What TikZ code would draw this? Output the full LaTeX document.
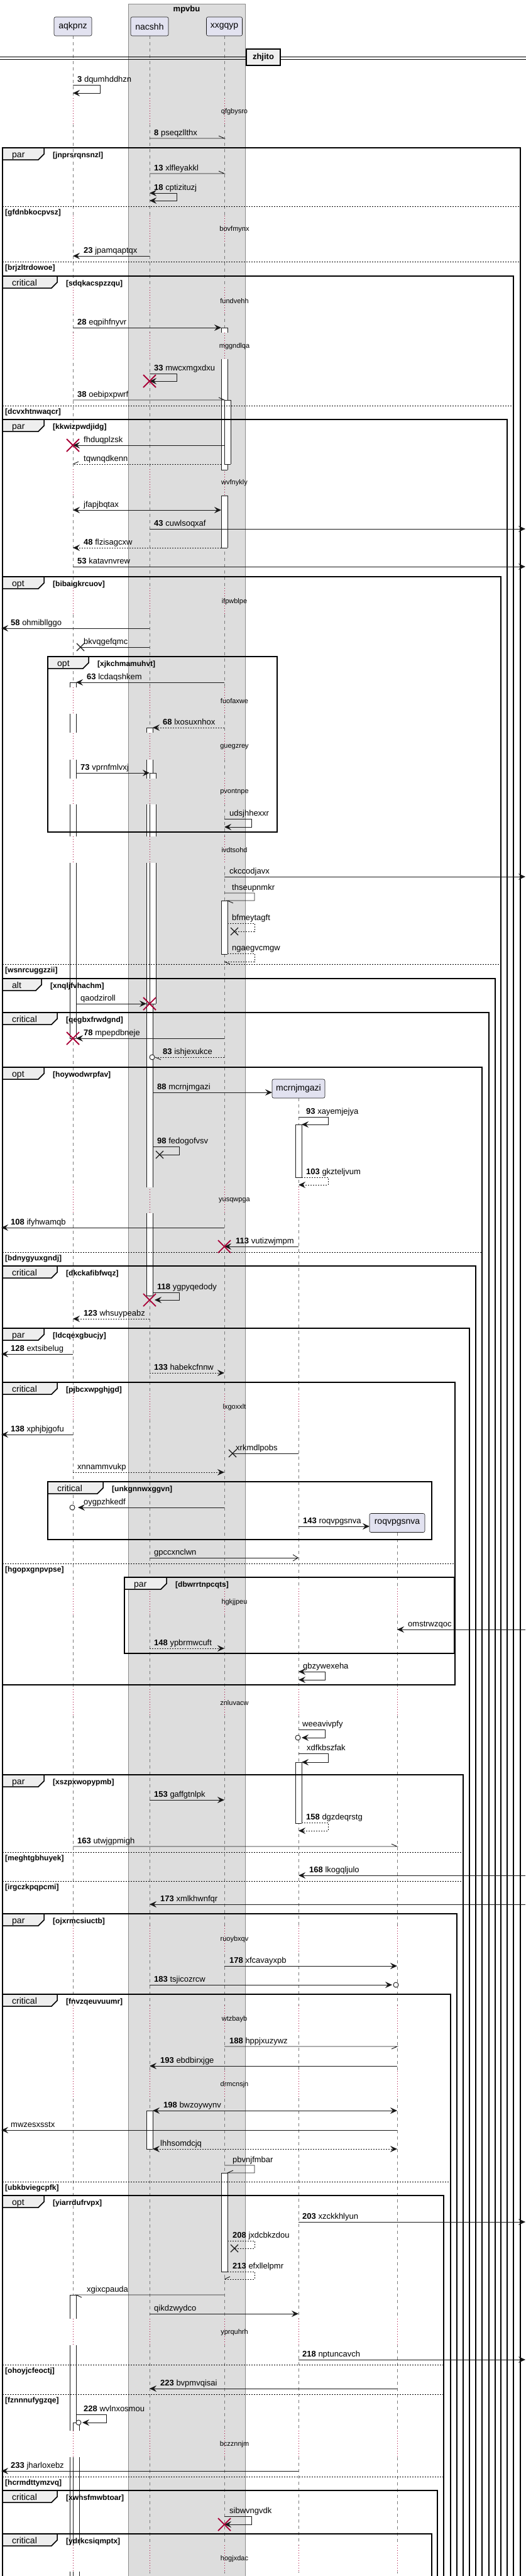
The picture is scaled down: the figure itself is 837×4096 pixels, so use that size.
\documentclass[tikz,border=0pt]{standalone}
\usepackage{fontspec}
\setmainfont{Liberation Sans}
\usetikzlibrary{arrows.meta}
\definecolor{lc}{HTML}{181818}
\definecolor{destroyred}{HTML}{A80036}
\definecolor{headfill}{HTML}{E2E2F0}
\definecolor{boxfill}{HTML}{DDDDDD}
\definecolor{boxline}{HTML}{8A8A8A}
\definecolor{tabfill}{HTML}{EEEEEE}
\definecolor{lifegray}{HTML}{7A7A7A}
\tikzset{%
	headbox/.style  = {draw=lc, fill=headfill, rounded corners=2.5pt, line width=0.6pt, minimum height=30pt, inner sep=0pt, font=\fontsize{14}{16}\selectfont},
	life/.style     = {draw=lifegray, line width=0.6pt, dash pattern=on 5pt off 5pt},
	delayline/.style= {draw=destroyred, line width=0.6pt, dash pattern=on 1pt off 3pt},
	delaytxt/.style = {inner sep=0pt, font=\fontsize{11}{13}\selectfont},
	msg/.style      = {draw=lc, line width=0.9pt},
	arr/.style      = {-{Stealth[length=11pt,width=10pt,inset=4pt]}},
	biarr/.style    = {{Stealth[length=11pt,width=10pt,inset=4pt]}-{Stealth[length=11pt,width=10pt,inset=4pt]}},
	openarr/.style  = {-{Straight Barb[length=8pt,width=10pt]}},
	dotline/.style  = {dash pattern=on 2pt off 2pt},
	lbl/.style      = {anchor=base west, inner sep=0pt, font=\fontsize{13}{15}\selectfont},
	actline/.style  = {draw=lc, line width=0.8pt},
	frm/.style      = {draw=black, line width=1.5pt},
	tabbox/.style   = {draw=black, fill=tabfill, line width=1.5pt},
	tabtxt/.style   = {anchor=base west, inner sep=0pt, font=\fontsize{14}{16}\selectfont},
	cond/.style     = {anchor=base west, inner sep=0pt, font=\bfseries\fontsize{12}{14}\selectfont},
	elseline/.style = {draw=black, line width=0.8pt, dash pattern=on 2pt off 2pt},
	kill/.style     = {draw=destroyred, line width=1.8pt},
	lost/.style     = {draw=lc, line width=1.3pt},
}
% lifeline positions
\def\posA{116}
\def\posN{238}
\def\posX{357}
\def\posM{475}
\def\posR{632}
\def\lifesA{\posA/white,\posN/boxfill,\posX/boxfill}
\def\lifesB{\posA/white,\posN/boxfill,\posX/boxfill,\posM/white}
\def\lifesC{\posA/white,\posN/boxfill,\posX/boxfill,\posM/white,\posR/white}
\newcommand\actseg[3]{\fill[white] (#1,#2) rectangle (#1+10,#3); \draw[actline] (#1,#2) -- (#1,#3) (#1+10,#2) -- (#1+10,#3);}
\newcommand\actcap[2]{\draw[actline] (#1,#2) -- (#1+10,#2);}
\newcommand\killmark[2]{\draw[kill] (#1-10,#2-10) -- (#1+10,#2+10) (#1-10,#2+10) -- (#1+10,#2-10);}
\newcommand\lostmark[2]{\draw[lost] (#1-6,#2-6) -- (#1+6,#2+6) (#1-6,#2+6) -- (#1+6,#2-6);}
\newcommand\msglabel[4]{\node[lbl] (#1) at (#2,#3) {#4};}
\newcommand\delaymark[4]{%
	\foreach \lx/\bg in #4 {\fill[\bg] (\lx-1.2,#2-22) rectangle (\lx+1.2,#2+20);
		\draw[delayline] (\lx,#2-22) -- (\lx,#2+20);}
	\node[delaytxt] (#1) at (373,#2) {#3};}
\newcommand\openframe[6]{%
	\draw[frm] (4,4110) -- (4,#2) -- (#3,#2) -- (#3,4110);
	\filldraw[tabbox] (4,#2) -- (#4,#2) -- (#4,#2+10) -- (#4-9,#2+19) -- (4,#2+19) -- cycle;
	\node[tabtxt] (#1) at (19,#2+15.5) {#5};
	\node[cond] (#1g) at (#4+14,#2+15) {[#6]};}
\newcommand\closedframe[8]{%
	\draw[frm] (#2,#3) rectangle (#4,#5);
	\filldraw[tabbox] (#2,#3) -- (#6,#3) -- (#6,#3+10) -- (#6-9,#3+19) -- (#2,#3+19) -- cycle;
	\node[tabtxt] (#1) at (#2+15,#3+15.5) {#7};
	\node[cond] (#1g) at (#6+14,#3+15) {[#8]};}
\newcommand\elsesep[4]{%
	\draw[elseline] (4,#2) -- (#3,#2);
	\node[cond] (#1) at (8,#2+13) {[#4]};}

\begin{document}
\begin{tikzpicture}[x=1pt,y=-1pt]
	\useasboundingbox (0,0) rectangle (837,4096);
	% box and lifelines
	\filldraw[fill=boxfill, draw=boxline, line width=0.8pt] (204,6) rectangle (390,4110);
	\node[font=\bfseries\fontsize{13}{15}\selectfont] (mpvbu) at (297,15) {mpvbu};
	\draw[life] (\posA,57) -- (\posA,4096);
	\draw[life] (\posN,57) -- (\posN,4096);
	\draw[life] (\posX,57) -- (\posX,4096);
	\draw[life] (\posM,1746) -- (\posM,4096);
	\draw[life] (\posR,2437) -- (\posR,4096);
	
	\delaymark{d1}{178}{qfgbysro}{\lifesA}
	\delaymark{d2}{365}{bovfmynx}{\lifesA}
	\delaymark{d3}{479}{fundvehh}{\lifesA}
	\delaymark{d4}{551}{mggndlqa}{\lifesA}
	\delaymark{d5}{768}{wvfnykly}{\lifesA}
	\delaymark{d6}{957}{ifpwblpe}{\lifesA}
	\delaymark{d7}{1115}{fuofaxwe}{\lifesA}
	\delaymark{d8}{1188}{guegzrey}{\lifesA}
	\delaymark{d9}{1259}{pvontnpe}{\lifesA}
	\delaymark{d10}{1352}{ivdtsohd}{\lifesA}
	\delaymark{d11}{1909}{yusqwpga}{\lifesB}
	\delaymark{d12}{2238}{lxgoxxlt}{\lifesB}
	\delaymark{d13}{2548}{hgkjjpeu}{\lifesC}
	\delaymark{d14}{2708}{znluvacw}{\lifesC}
	\delaymark{d15}{3084}{ruoybxqv}{\lifesC}
	\delaymark{d16}{3211}{wtzbayb}{\lifesC}
	\delaymark{d17}{3315}{drmcnsjn}{\lifesC}
	\delaymark{d18}{3709}{yprquhrh}{\lifesC}
	\delaymark{d19}{3887}{bczznnjm}{\lifesC}
	\delaymark{d20}{4069}{hogjxdac}{\lifesC}
	
	% activations
	\actseg{352}{521}{529}\actcap{352}{521}
	\actseg{352}{571}{747}\actcap{352}{747}
	\actseg{357}{636}{738}\actcap{357}{636}\actcap{357}{738}
	\actseg{352}{788}{871}\actcap{352}{788}\actcap{352}{871}
	\actseg{352}{1432}{1517}\actcap{352}{1432}\actcap{352}{1517}
	\actseg{352}{3455}{3612}\actcap{352}{3455}\actcap{352}{3612}
	\actseg{111}{1085}{1093}\actcap{111}{1085}
	\actseg{111}{1135}{1165}
	\actseg{111}{1208}{1238}
	\actseg{111}{1279}{1330}
	\actseg{111}{1372}{1651}\actcap{111}{1651}
	\actseg{233}{1157}{1165}\actcap{233}{1157}
	\actseg{233}{1208}{1238}
	\actseg{233}{1279}{1330}
	\actseg{233}{1372}{1596}
	\actseg{238}{1229}{1238}\actcap{238}{1229}
	\actseg{238}{1279}{1330}
	\actseg{238}{1372}{1596}\actcap{238}{1596}
	\actseg{233}{1596}{1888}\actcap{233}{1596}
	\actseg{233}{1929}{2060}\actcap{233}{2060}
	\actseg{233}{3356}{3417}\actcap{233}{3356}\actcap{233}{3417}
	\actseg{470}{1788}{1872}\actcap{470}{1788}\actcap{470}{1872}
	\actseg{470}{2802}{2899}\actcap{470}{2802}\actcap{470}{2899}
	\actseg{111}{3649}{3687}\actcap{111}{3649}
	\actseg{111}{3729}{3865}
	\actseg{111}{3907}{4047}
	\actseg{111}{4089}{4110}
	\actseg{116}{3852}{3865}\actcap{116}{3852}
	\actseg{116}{3907}{4047}
	\actseg{116}{4089}{4110}
	
	% divider
	\draw[line width=1pt] (0,90) -- (837,90) (0,94) -- (837,94);
	\node[draw=black, line width=1.5pt, fill=tabfill, font=\bfseries\fontsize{13}{15}\selectfont, minimum width=54pt, minimum height=26pt, inner sep=0pt] (zhjito) at (419,91) {zhjito};
	
	% groups
	\openframe{g1}{235}{828}{70}{par}{jnprsrqnsnzl}
	\elsesep{e1}{328}{828}{gfdnbkocpvsz}
	\elsesep{e2}{416}{828}{brjzltrdowoe}
	\openframe{g2}{439}{817}{91}{critical}{sdqkacspzzqu}
	\elsesep{e3}{645}{817}{dcvxhtnwaqcr}
	\openframe{g3}{667}{807}{70}{par}{kkwizpwdjidg}
	\openframe{g4}{917}{797}{70}{opt}{bibaigkrcuov}
	\closedframe{g4a}{76}{1044}{441}{1323}{141}{opt}{xjkchmamuhvt}
	\elsesep{e4}{1533}{797}{wsnrcuggzzii}
	\openframe{g5}{1556}{788}{66}{alt}{xnqljfvhachm}
	\openframe{g6}{1610}{778}{91}{critical}{qegbxfrwdgnd}
	\openframe{g7}{1697}{767}{70}{opt}{hoywodwrpfav}
	\elsesep{e5}{1991}{767}{bdnygyuxgndj}
	\openframe{g8}{2013}{757}{91}{critical}{dkckafibfwqz}
	\openframe{g9}{2112}{747}{70}{par}{ldcqexgbucjy}
	\closedframe{g10}{4}{2198}{724}{2679}{91}{critical}{pjbcxwpghjgd}
	\closedframe{g10a}{76}{2356}{687}{2448}{164}{critical}{unkgnnwxggvn}
	\elsesep{e6}{2486}{724}{hgopxgnpvpse}
	\closedframe{g10b}{198}{2508}{723}{2629}{265}{par}{dbwrrtnpcqts}
	\openframe{g11}{2822}{737}{70}{par}{xszpxwopypmb}
	\elsesep{e7}{2945}{737}{meghtgbhuyek}
	\elsesep{e8}{2991}{737}{irgczkpqpcmi}
	\openframe{g12}{3043}{727}{70}{par}{ojxrmcsiuctb}
	\openframe{g13}{3171}{717}{91}{critical}{fnvzqeuvuumr}
	\elsesep{e9}{3469}{717}{ubkbviegcpfk}
	\openframe{g14}{3491}{706}{70}{opt}{yiarrdufrvpx}
	\elsesep{e10}{3760}{706}{ohoyjcfeoctj}
	\elsesep{e11}{3807}{706}{fznnnufygzqe}
	\elsesep{e12}{3938}{706}{hcrmdttymzvq}
	\openframe{g15}{3960}{696}{91}{critical}{xwhsfmwbtoar}
	\openframe{g16}{4029}{687}{91}{critical}{ydrkcsiqmptx}
	
	% participants
	\node[headbox, minimum width=60pt] (aqkpnz) at (\posA,42) {aqkpnz};
	\node[headbox, minimum width=60pt] (nacshh) at (\posN,42) {nacshh};
	\node[headbox, minimum width=57pt] (xxgqyp) at (\posX,42) {xxgqyp};
	\node[headbox, minimum width=84pt] (mcrnjmgazi) at (\posM,1731) {mcrnjmgazi};
	\node[headbox, minimum width=88pt] (roqvpgsnva) at (\posR,2421.5) {roqvpgsnva};
	
	% messages
	\draw[msg,arr] (\posA,135) -- (159,135) -- (159,148) -- (\posA,148);
	\msglabel{m3}{123}{130}{\textbf{3} dqumhddhzn}
	\draw[msg] (\posN,220) -- (\posX,220) -- ++(-9,-4);
	\msglabel{m8}{245}{215}{\textbf{8} pseqzllthx}
	\draw[msg] (\posN,276) -- (\posX,276) -- ++(-9,-4);
	\msglabel{m13}{245}{271}{\textbf{13} xlfleyakkl}
	\draw[msg,biarr] (\posN,307) -- (281,307) -- (281,319) -- (\posN,319);
	\msglabel{m18}{245}{302}{\textbf{18} cptizituzj}
	\draw[msg,arr] (\posN,407) -- (\posA,407);
	\msglabel{m23}{133}{402}{\textbf{23} jpamqaptqx}
	\draw[msg,arr] (\posA,521) -- (352,521);
	\msglabel{m28}{123}{516}{\textbf{28} eqpihfnyvr}
	\draw[msg,arr] (\posN,594) -- (281,594) -- (281,606) -- (\posN,606);
	\msglabel{m33}{245}{589}{\textbf{33} mwcxmgxdxu}
	\killmark{\posN}{606}
	\draw[msg] (\posA,636) -- (357,636) -- ++(-9,-4);
	\msglabel{m38}{123}{631}{\textbf{38} oebipxpwrf}
	\draw[msg,arr] (357,708) -- (\posA,708);
	\msglabel{fhduqplzsk}{133}{703}{fhduqplzsk}
	\killmark{\posA}{708}
	\draw[msg,dotline] (352,738) -- (\posA,738);
	\draw[msg] (\posA,738) -- ++(9,-4);
	\msglabel{tqwnqdkenn}{133}{733}{tqwnqdkenn}
	\draw[msg,biarr] (\posA,811) -- (352,811);
	\msglabel{jfapjbqtax}{133}{806}{jfapjbqtax}
	\draw[msg,arr] (\posN,841) -- (836,841);
	\msglabel{m43}{245}{836}{\textbf{43} cuwlsoqxaf}
	\draw[msg,arr,dotline] (352,871) -- (\posA,871);
	\msglabel{m48}{133}{866}{\textbf{48} flzisagcxw}
	\draw[msg,arr] (\posA,901) -- (836,901);
	\msglabel{m53}{123}{896}{\textbf{53} katavnvrew}
	\draw[msg,arr] (\posN,999) -- (2,999);
	\msglabel{m58}{17}{994}{\textbf{58} ohmibllggo}
	\draw[msg] (\posN,1029) -- (128,1029);
	\lostmark{128}{1029}
	\msglabel{bkvqgefqmc}{133}{1024}{bkvqgefqmc}
	\draw[msg,arr] (\posX,1085) -- (121,1085);
	\msglabel{m63}{138}{1080}{\textbf{63} lcdaqshkem}
	\draw[msg,arr,dotline] (\posX,1157) -- (243,1157);
	\msglabel{m68}{259}{1152}{\textbf{68} lxosuxnhox}
	\draw[msg,arr] (121,1229) -- (238,1229);
	\msglabel{m73}{128}{1224}{\textbf{73} vprnfmlvxj}
	\draw[msg,arr] (\posX,1302) -- (400,1302) -- (400,1315) -- (\posX,1315);
	\msglabel{udsjhhexxr}{365}{1297}{udsjhhexxr}
	\draw[msg,arr] (\posX,1394) -- (836,1394);
	\msglabel{ckccodjavx}{365}{1389}{ckccodjavx}
	\draw[msg] (\posX,1420) -- (405,1420) -- (405,1432) -- (362,1432) -- ++(9,4);
	\msglabel{thseupnmkr}{369}{1415}{thseupnmkr}
	\draw[msg,dotline] (362,1468) -- (405,1468) -- (405,1481) -- (373,1481);
	\lostmark{373}{1481}
	\msglabel{bfmeytagft}{369}{1463}{bfmeytagft}
	\draw[msg,dotline] (362,1516) -- (405,1516) -- (405,1529) -- (\posX,1529);
	\draw[msg] (\posX,1529) -- ++(9,4);
	\msglabel{ngaegvcmgw}{369}{1511}{ngaegvcmgw}
	\draw[msg,arr] (121,1596) -- (233,1596);
	\killmark{\posN}{1596}
	\msglabel{qaodziroll}{128}{1591}{qaodziroll}
	\draw[msg,arr] (\posX,1651) -- (121,1651);
	\killmark{\posA}{1651}
	\msglabel{m78}{133}{1646}{\textbf{78} mpepdbneje}
	\draw[msg,dotline] (\posX,1681) -- (247,1681);
	\draw[msg] (247,1681) -- ++(9,4);
	\draw[msg,fill=white] (242,1681) circle (4pt);
	\msglabel{m83}{259}{1676}{\textbf{83} ishjexukce}
	\draw[msg,arr] (243,1737) -- (433,1737);
	\msglabel{m88}{250}{1732}{\textbf{88} mcrnjmgazi}
	\draw[msg,arr] (\posM,1776) -- (522,1776) -- (522,1788) -- (480,1788);
	\msglabel{m93}{487}{1771}{\textbf{93} xayemjejya}
	\draw[msg] (243,1823) -- (285,1823) -- (285,1836) -- (254,1836);
	\lostmark{254}{1836}
	\msglabel{m98}{250}{1818}{\textbf{98} fedogofvsv}
	\draw[msg,arr,dotline] (480,1872) -- (522,1872) -- (522,1884) -- (\posM,1884);
	\msglabel{m103}{487}{1867}{\textbf{103} gkzteljvum}
	\draw[msg,arr] (\posX,1952) -- (2,1952);
	\msglabel{m108}{17}{1947}{\textbf{108} ifyhwamqb}
	\draw[msg,arr] (\posM,1982) -- (\posX,1982);
	\killmark{\posX}{1982}
	\msglabel{m113}{375}{1977}{\textbf{113} vutizwjmpm}
	\draw[msg,arr] (243,2055) -- (285,2055) -- (285,2067) -- (246,2067);
	\killmark{\posN}{2067}
	\msglabel{m118}{250}{2050}{\textbf{118} ygpyqedody}
	\draw[msg,arr,dotline] (\posN,2097) -- (\posA,2097);
	\msglabel{m123}{133}{2092}{\textbf{123} whsuypeabz}
	\draw[msg,arr] (\posA,2153) -- (2,2153);
	\msglabel{m128}{17}{2148}{\textbf{128} extsibelug}
	\draw[msg,arr,dotline] (\posN,2183) -- (\posX,2183);
	\msglabel{m133}{245}{2178}{\textbf{133} habekcfnnw}
	\draw[msg,arr] (\posA,2281) -- (2,2281);
	\msglabel{m138}{17}{2276}{\textbf{138} xphjbjgofu}
	\draw[msg] (\posM,2311) -- (370,2311);
	\lostmark{370}{2311}
	\msglabel{xrkmdlpobs}{375}{2306}{xrkmdlpobs}
	\draw[msg,arr,dotline] (\posA,2341) -- (\posX,2341);
	\msglabel{xnnammvukp}{123}{2336}{xnnammvukp}
	\draw[msg,arr] (\posX,2397) -- (124,2397);
	\draw[msg,fill=white] (\posA-1,2397) circle (4pt);
	\msglabel{oygpzhkedf}{133}{2392}{oygpzhkedf}
	\draw[msg,arr] (\posM,2427) -- (588,2427);
	\msglabel{m143}{482}{2422}{\textbf{143} roqvpgsnva}
	\draw[msg,openarr] (\posN,2477) -- (\posM,2477);
	\msglabel{gpccxnclwn}{245}{2472}{gpccxnclwn}
	\draw[msg,arr] (836,2591) -- (\posR,2591);
	\msglabel{omstrwzqoc}{649}{2586}{omstrwzqoc}
	\draw[msg,arr,dotline] (\posN,2621) -- (\posX,2621);
	\msglabel{m148}{245}{2616}{\textbf{148} ypbrmwcuft}
	\draw[msg,biarr] (\posM,2658) -- (517,2658) -- (517,2671) -- (\posM,2671);
	\msglabel{gbzywexeha}{482}{2653}{gbzywexeha}
	\draw[msg,arr] (\posM,2750) -- (517,2750) -- (517,2763) -- (480,2763);
	\draw[msg,fill=white] (\posM-1,2763) circle (4pt);
	\msglabel{weeavivpfy}{481}{2745}{weeavivpfy}
	\draw[msg,arr] (\posM,2788) -- (522,2788) -- (522,2802) -- (480,2802);
	\msglabel{xdfkbszfak}{488}{2783}{xdfkbszfak}
	\draw[msg,arr] (\posN,2862) -- (\posX,2862);
	\msglabel{m153}{245}{2857}{\textbf{153} gaffgtnlpk}
	\draw[msg,arr,dotline] (480,2898) -- (522,2898) -- (522,2911) -- (\posM,2911);
	\msglabel{m158}{487}{2893}{\textbf{158} dgzdeqrstg}
	\draw[msg] (\posA,2936) -- (\posR,2936) -- ++(-9,-4);
	\msglabel{m163}{123}{2931}{\textbf{163} utwjgpmigh}
	\draw[msg,arr] (836,2982) -- (\posM,2982);
	\msglabel{m168}{492}{2977}{\textbf{168} lkogqljulo}
	\draw[msg,arr] (836,3028) -- (\posN,3028);
	\msglabel{m173}{255}{3023}{\textbf{173} xmlkhwnfqr}
	\draw[msg,arr] (\posX,3126) -- (\posR,3126);
	\msglabel{m178}{365}{3121}{\textbf{178} xfcavayxpb}
	\draw[msg,arr] (\posN,3156) -- (624,3156);
	\draw[msg,fill=white] (630,3156) circle (4pt);
	\msglabel{m183}{245}{3151}{\textbf{183} tsjicozrcw}
	\draw[msg] (\posX,3254) -- (\posR,3254) -- ++(-9,4);
	\msglabel{m188}{365}{3249}{\textbf{188} hppjxuzywz}
	\draw[msg,arr] (\posR,3285) -- (\posN,3285);
	\msglabel{m193}{255}{3280}{\textbf{193} ebdbirxjge}
	\draw[msg,biarr] (243,3356) -- (\posR,3356);
	\msglabel{m198}{260}{3351}{\textbf{198} bwzoywynv}
	\draw[msg,arr] (\posR,3387) -- (2,3387);
	\msglabel{mwzesxsstx}{17}{3382}{mwzesxsstx}
	\draw[msg,biarr,dotline] (243,3417) -- (\posR,3417);
	\msglabel{lhhsomdcjq}{255}{3412}{lhhsomdcjq}
	\draw[msg] (\posX,3443) -- (405,3443) -- (405,3455) -- (362,3455) -- ++(9,-4);
	\msglabel{pbvnjfmbar}{370}{3438}{pbvnjfmbar}
	\draw[msg,arr] (\posM,3533) -- (836,3533);
	\msglabel{m203}{481}{3528}{\textbf{203} xzckkhlyun}
	\draw[msg,dotline] (362,3563) -- (405,3563) -- (405,3575) -- (373,3575);
	\lostmark{373}{3575}
	\msglabel{m208}{370}{3558}{\textbf{208} jxdcbkzdou}
	\draw[msg,dotline] (362,3612) -- (405,3612) -- (405,3624) -- (\posX,3624);
	\draw[msg] (\posX,3624) -- ++(9,-4);
	\msglabel{m213}{370}{3607}{\textbf{213} efxllelpmr}
	\draw[msg] (\posX,3649) -- (121,3649) -- ++(9,4);
	\msglabel{xgixcpauda}{138}{3644}{xgixcpauda}
	\draw[msg,arr] (\posN,3679) -- (\posM,3679);
	\msglabel{qikdzwydco}{245}{3674}{qikdzwydco}
	\draw[msg,arr] (\posM,3752) -- (836,3752);
	\msglabel{m218}{481}{3747}{\textbf{218} nptuncavch}
	\draw[msg,arr] (\posR,3798) -- (\posN,3798);
	\msglabel{m223}{255}{3793}{\textbf{223} bvpmvqisai}
	\draw[msg,arr] (121,3839) -- (169,3839) -- (169,3852) -- (131,3852);
	\draw[msg,fill=white] (125,3852) circle (4pt);
	\msglabel{m228}{133}{3834}{\textbf{228} wvlnxosmou}
	\draw[msg,arr] (\posM,3929) -- (2,3929);
	\msglabel{m233}{17}{3924}{\textbf{233} jharloxebz}
	\draw[msg,arr] (\posX,4001) -- (400,4001) -- (400,4014) -- (\posX,4014);
	\killmark{\posX}{4014}
	\msglabel{sibwvngvdk}{365}{3996}{sibwvngvdk}
\end{tikzpicture}
\end{document}
